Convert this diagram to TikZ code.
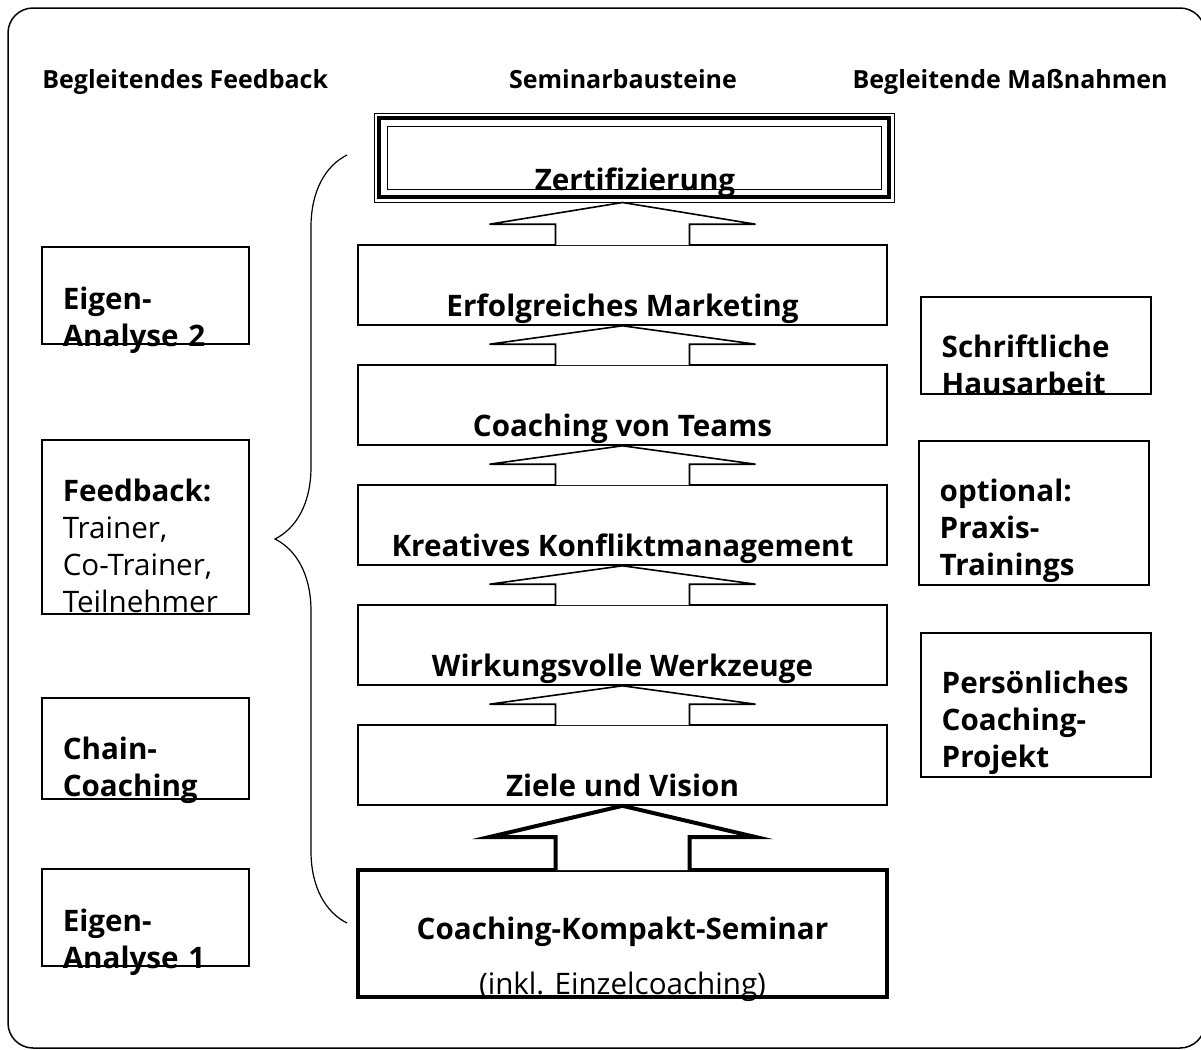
\documentclass[tikz,border=0pt]{standalone}
\usepackage{fontspec}
\setmainfont{Open Sans}
\usetikzlibrary{decorations.pathreplacing}

\tikzset{
  heading/.style={font=\fontsize{12.5}{14}\selectfont\bfseries, inner sep=0pt, anchor=base},
  stage/.style={draw, line width=0.8pt, minimum width=264.5pt, minimum height=40pt, inner sep=0pt},
  stagetext/.style={font=\fontsize{14.8}{18.5}\selectfont\bfseries, inner sep=0pt, anchor=base},
  stagearrow/.style={draw, fill=white, line width=0.8pt},
  sidebox/.style={draw, line width=0.6pt, inner sep=0pt},
  sidetext/.style={font=\fontsize{14.8}{18.5}\selectfont\bfseries, inner sep=0pt, anchor=base west, text width=100pt, align=left},
}

\begin{document}
\begin{tikzpicture}[x=0.5pt, y=-0.5pt]
  \useasboundingbox (0,0) rectangle (1201,1050);
  \draw[line width=0.75pt, rounded corners=12.5pt] (8,8) rectangle (1205,1048);

  \node[heading, anchor=base west] (hfeedback) at (42,88) {Begleitendes Feedback};
  \node[heading] (hseminar) at (623,88) {Seminarbausteine};
  \node[heading, anchor=base east] (hmassnahmen) at (1168,88) {Begleitende Maßnahmen};

  % seminar blocks
  \node[draw, line width=0.5pt, minimum width=260pt, minimum height=44.5pt, inner sep=0pt] (zert) at (634,157.5) {};
  \draw[line width=2pt] ([shift={(5.5,5.5)}]zert.north west) rectangle ([shift={(-5.5,-5.5)}]zert.south east);
  \draw[line width=0.5pt] ([shift={(13.5,13.5)}]zert.north west) rectangle ([shift={(-13.5,-13.5)}]zert.south east);
  \node[stage] (marketing) at (622.5,285) {};
  \node[stage] (teams) at (622.5,405) {};
  \node[stage] (konflikt) at (622.5,525) {};
  \node[stage] (werkzeuge) at (622.5,645) {};
  \node[stage] (ziele) at (622.5,765) {};
  \node[stage, line width=2pt, minimum height=63.5pt] (kompakt) at (622.5,933.5) {};

  \foreach \lo/\hi in {marketing/zert, teams/marketing, konflikt/teams, werkzeuge/konflikt, ziele/werkzeuge}
    \draw[stagearrow] ([shift={(-67,1)}]\lo.north) -- ++(0,-21) -- ++(-66,0) -- (\lo.north |- \hi.south)
      -- ([shift={(133,-20)}]\lo.north) -- ++(-66,0) -- ++(0,21);
  \draw[stagearrow, line width=2pt] ([shift={(-67,2)}]kompakt.north) -- ++(0,-33) -- ++(-66,0) -- (kompakt.north |- ziele.south)
    -- ([shift={(133,-31)}]kompakt.north) -- ++(-66,0) -- ++(0,33);

  \node[stagetext] (tzert) at (635,190) {Zertifizierung};
  \foreach \n/\t in {marketing/Erfolgreiches Marketing, teams/Coaching von Teams, konflikt/Kreatives Konfliktmanagement,
                     werkzeuge/Wirkungsvolle Werkzeuge, ziele/Ziele und Vision}
    \node[stagetext] (t\n) at ([yshift=4.5pt]\n.south) {\t};
  \node[stagetext] (tkompakt) at ([yshift=30pt]kompakt.south) {Coaching-Kompakt-Seminar};
  \node[stagetext, font=\fontsize{14.8}{18.5}\selectfont] (tinkl) at ([yshift=2.5pt]kompakt.south) {(inkl. Einzelcoaching)};

  % begleitendes feedback
  \node[sidebox, minimum width=103.5pt, minimum height=48.5pt] (eigen2) at (145.5,295.5) {};
  \node[sidebox, minimum width=103.5pt, minimum height=87pt] (feedback) at (145.5,527) {};
  \node[sidebox, minimum width=103.5pt, minimum height=50.5pt] (chain) at (145.5,748.5) {};
  \node[sidebox, minimum width=103.5pt, minimum height=48.5pt] (eigen1) at (145.5,917.5) {};
  \node[sidetext] at ([shift={(21,63)}]eigen2.north west) {Eigen-\\Analyse 2};
  \node[sidetext] at ([shift={(21,62)}]feedback.north west) {Feedback:\\{\mdseries Trainer,}\\{\mdseries Co-Trainer,}\\{\mdseries Teilnehmer}};
  \node[sidetext] at ([shift={(21,62)}]chain.north west) {Chain-\\Coaching};
  \node[sidetext] at ([shift={(21,63)}]eigen1.north west) {Eigen-\\Analyse 1};

  \draw[decoration={brace, amplitude=36pt}, decorate, line width=0.6pt] (347,923) -- (347,155);

  % begleitende massnahmen
  \node[sidebox, line width=0.7pt, minimum width=115pt, minimum height=48.5pt] (haus) at (1036,345.5) {};
  \node[sidebox, line width=0.7pt, minimum width=115pt, minimum height=72pt] (praxis) at (1034,513) {};
  \node[sidebox, line width=0.7pt, minimum width=115pt, minimum height=72pt] (projekt) at (1036,705) {};
  \node[sidetext] at ([shift={(21,61)}]haus.north west) {Schriftliche\\Hausarbeit};
  \node[sidetext] at ([shift={(21,61)}]praxis.north west) {optional:\\Praxis-\\Trainings};
  \node[sidetext] at ([shift={(21,61)}]projekt.north west) {Persönliches\\Coaching-\\Projekt};
\end{tikzpicture}
\end{document}
